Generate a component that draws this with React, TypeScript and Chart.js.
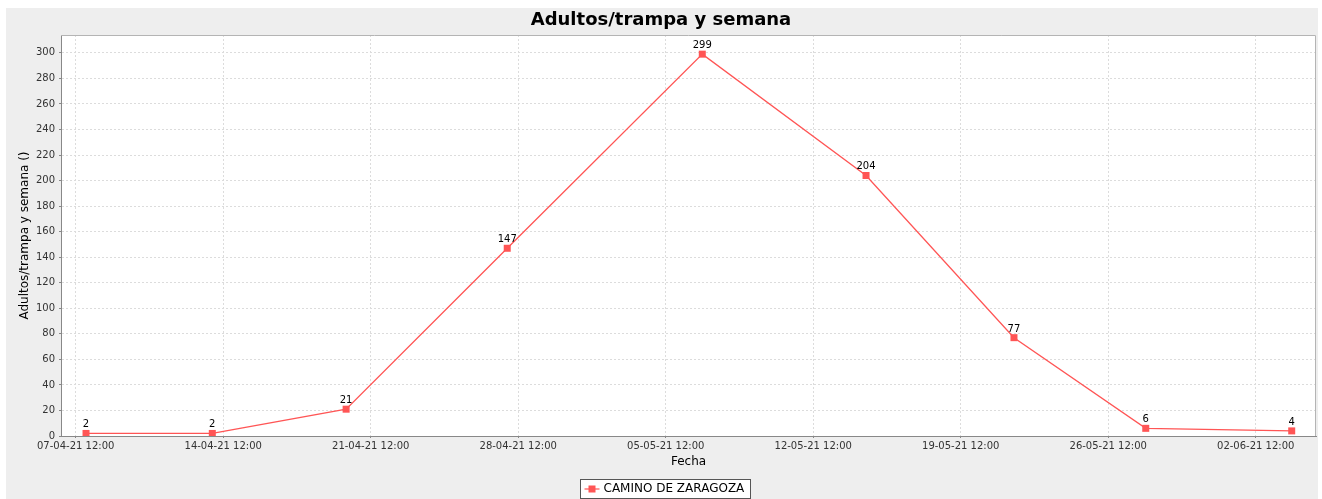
import React, { useEffect, useRef } from "react";
import { Chart, registerables } from "chart.js";

Chart.register(...registerables);

const TITLE = "Adultos/trampa y semana";
const Y_TITLE = "Adultos/trampa y semana ()";
const X_TITLE = "Fecha";
const SERIES_LABEL = "CAMINO DE ZARAGOZA";

const pointDates = [
  "2021-04-07T23:45:00Z",
  "2021-04-13T23:35:00Z",
  "2021-04-20T08:00:00Z",
  "2021-04-27T23:30:00Z",
  "2021-05-07T05:40:00Z",
  "2021-05-15T00:10:00Z",
  "2021-05-22T00:40:00Z",
  "2021-05-28T06:45:00Z",
  "2021-06-04T05:00:00Z",
];
const values = [2, 2, 21, 147, 299, 204, 77, 6, 4];

const xTickDates = [
  "2021-04-07T12:00:00Z",
  "2021-04-14T12:00:00Z",
  "2021-04-21T12:00:00Z",
  "2021-04-28T12:00:00Z",
  "2021-05-05T12:00:00Z",
  "2021-05-12T12:00:00Z",
  "2021-05-19T12:00:00Z",
  "2021-05-26T12:00:00Z",
  "2021-06-02T12:00:00Z",
];
const xRange = ["2021-04-06T19:15:00Z", "2021-06-05T08:40:00Z"];
const yTicks = [0, 20, 40, 60, 80, 100, 120, 140, 160, 180, 200, 220, 240, 260, 280, 300];
const yMax = 314;

const FONT = "'DejaVu Sans', 'Liberation Sans', sans-serif";
const RED = "#FF5555";

const pad2 = (n: number) => (n < 10 ? "0" + n : "" + n);
const fmtDate = (ms: number) => {
  const d = new Date(ms);
  return (
    pad2(d.getUTCDate()) + "-" + pad2(d.getUTCMonth() + 1) + "-" + pad2(d.getUTCFullYear() % 100) +
    " " + pad2(d.getUTCHours()) + ":" + pad2(d.getUTCMinutes())
  );
};

const plotBgPlugin = {
  id: "plotBg",
  beforeDraw(chart: any) {
    const { ctx, chartArea } = chart;
    ctx.save();
    ctx.fillStyle = "#FFFFFF";
    ctx.fillRect(chartArea.left, chartArea.top, chartArea.right - chartArea.left, chartArea.bottom - chartArea.top);
    ctx.restore();
  },
  beforeDatasetsDraw(chart: any) {
    const { ctx, chartArea } = chart;
    ctx.save();
    ctx.strokeStyle = "#b4b4b4";
    ctx.lineWidth = 1;
    ctx.beginPath();
    ctx.moveTo(chartArea.left, chartArea.top + 0.5);
    ctx.lineTo(chartArea.right - 0.5, chartArea.top + 0.5);
    ctx.lineTo(chartArea.right - 0.5, chartArea.bottom);
    ctx.stroke();
    ctx.restore();
  },
};

const valueLabelPlugin = {
  id: "valueLabels",
  afterDatasetsDraw(chart: any) {
    const { ctx } = chart;
    const meta = chart.getDatasetMeta(0);
    const data = chart.data.datasets[0].data as any[];
    ctx.save();
    ctx.font = "10px " + FONT;
    ctx.fillStyle = "#000";
    ctx.textAlign = "center";
    ctx.textBaseline = "alphabetic";
    meta.data.forEach((pt: any, i: number) => {
      ctx.fillText(String(data[i].y), pt.x, pt.y - 6);
    });
    ctx.restore();
  },
};

const boxLegendPlugin = {
  id: "boxLegend",
  afterDraw(chart: any) {
    const { ctx } = chart;
    const text = chart.data.datasets[0].label as string;
    ctx.save();
    ctx.font = "12px " + FONT;
    const tw = ctx.measureText(text).width;
    const w = 4 + 15 + 4 + tw + 6;
    const h = 19;
    const cx = chart.width / 2 + 3;
    const x0 = Math.round(cx - w / 2) + 0.5;
    const y0 = 471.5;
    ctx.fillStyle = "#FFFFFF";
    ctx.fillRect(x0, y0, w, h);
    ctx.strokeStyle = "#555";
    ctx.lineWidth = 1;
    ctx.strokeRect(x0, y0, Math.round(w), h);
    const cy = y0 + h / 2;
    ctx.strokeStyle = RED;
    ctx.lineWidth = 1.2;
    ctx.beginPath();
    ctx.moveTo(x0 + 4, cy);
    ctx.lineTo(x0 + 19, cy);
    ctx.stroke();
    ctx.fillStyle = RED;
    ctx.fillRect(x0 + 11.5 - 3.5, cy - 3.5, 7, 7);
    ctx.fillStyle = "#000";
    ctx.textAlign = "left";
    ctx.textBaseline = "middle";
    ctx.fillText(text, x0 + 23, cy);
    ctx.restore();
  },
};

export default function App() {
  const canvasRef = useRef<HTMLCanvasElement | null>(null);

  useEffect(() => {
    document.documentElement.style.overflow = "hidden";
    const canvas = canvasRef.current;
    if (!canvas) return;
    const xTicks = xTickDates.map((s) => Date.parse(s));
    const chart = new Chart(canvas, {
      type: "line",
      data: {
        datasets: [
          {
            label: SERIES_LABEL,
            data: pointDates.map((d, i) => ({ x: Date.parse(d), y: values[i] })),
            borderColor: RED,
            backgroundColor: RED,
            borderWidth: 1.3,
            pointStyle: "rect",
            pointRadius: 4.95,
            pointBorderWidth: 0,
            pointBackgroundColor: RED,
            tension: 0,
            fill: false,
          },
        ],
      },
      options: {
        animation: false,
        responsive: false,
        devicePixelRatio: 1,
        layout: { autoPadding: false, padding: { left: 0, right: 2, top: 0, bottom: 29.8 } },
        plugins: {
          legend: { display: false },
          tooltip: { enabled: false },
          title: {
            display: true,
            text: TITLE,
            color: "#000",
            font: { family: FONT, size: 18, weight: "bold" },
            padding: { top: 1.5, bottom: 3.9 },
          },
        },
        scales: {
          x: {
            type: "linear",
            min: Date.parse(xRange[0]),
            max: Date.parse(xRange[1]),
            afterBuildTicks: (s: any) => {
              s.ticks = xTicks.map((v) => ({ value: v }));
            },
            afterFit: (s: any) => {
              s.height = 33.2;
              s.paddingLeft = 0;
              s.paddingRight = 0;
            },
            ticks: {
              callback: (v: any) => fmtDate(Number(v)),
              font: { family: FONT, size: 10 },
              color: "#333",
              padding: 2,
              maxRotation: 0,
              autoSkip: false,
            },
            grid: { color: "#dcdcdc", tickColor: "#888", tickLength: 2, tickBorderDash: [] },
            border: { color: "#888", width: 1, dash: [2, 2] },
            title: {
              display: true,
              text: X_TITLE,
              color: "#000",
              font: { family: FONT, size: 12 },
              padding: { top: 0, bottom: 0 },
            },
          },
          y: {
            type: "linear",
            min: 0,
            max: yMax,
            afterBuildTicks: (s: any) => {
              s.ticks = yTicks.map((v) => ({ value: v }));
            },
            afterFit: (s: any) => {
              s.width = 55;
            },
            ticks: { font: { family: FONT, size: 10 }, color: "#333", padding: 4 },
            grid: { color: "#dcdcdc", tickColor: "#888", tickLength: 2, tickBorderDash: [] },
            border: { color: "#888", width: 1, dash: [2, 2] },
            title: {
              display: true,
              text: Y_TITLE,
              color: "#000",
              font: { family: FONT, size: 12 },
              padding: { top: 11.8, bottom: 0 },
            },
          },
        },
      } as any,
      plugins: [plotBgPlugin, valueLabelPlugin, boxLegendPlugin],
    });
    return () => chart.destroy();
  }, []);

  return (
    <div style={{ position: "absolute", left: 6, top: 8, width: 1312, height: 491, background: "#EEEEEE" }}>
      <canvas ref={canvasRef} width={1312} height={491} style={{ display: "block" }} />
    </div>
  );
}
